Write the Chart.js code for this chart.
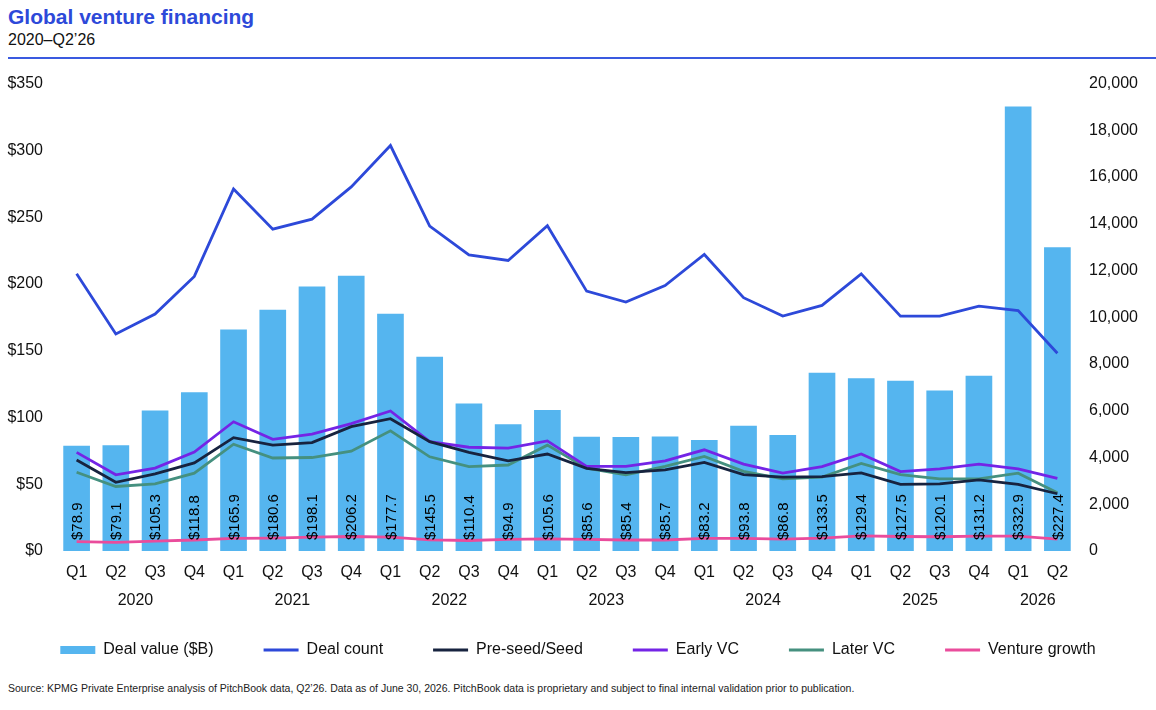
<!DOCTYPE html>
<html>
<head>
<meta charset="utf-8">
<script src="https://cdn.jsdelivr.net/npm/chart.js@4/dist/chart.umd.min.js"></script>
<style>
  html, body { margin: 0; padding: 0; background: #fff; }
  body { width: 1156px; height: 710px; position: relative; overflow: hidden; font-family: "Liberation Sans", Arial, sans-serif; color: #111; }
  #title { position: absolute; left: 8px; top: 6px; font-size: 21px; line-height: 21px; font-weight: bold; color: #2d49d9; }
  #sub { position: absolute; left: 8px; top: 32px; font-size: 16px; line-height: 16px; color: #111; }
  #rule { position: absolute; left: 8px; right: 0; top: 57px; height: 2px; background: #3a5ae0; }
  #wrap { position: absolute; left: 0; top: 60px; width: 1156px; height: 612px; }
  #source { position: absolute; left: 8px; top: 683px; font-size: 10.5px; line-height: 10.5px; color: #222; }
</style>
</head>
<body>
<div id="title">Global venture financing</div>
<div id="sub">2020–Q2’26</div>
<div id="rule"></div>
<div id="wrap"><canvas id="chart"></canvas></div>
<div id="source">Source: KPMG Private Enterprise analysis of PitchBook data, Q2’26. Data as of June 30, 2026. PitchBook data is proprietary and subject to final internal validation prior to publication.</div>
<script>
var quarters = ['Q1','Q2','Q3','Q4','Q1','Q2','Q3','Q4','Q1','Q2','Q3','Q4','Q1','Q2','Q3','Q4','Q1','Q2','Q3','Q4','Q1','Q2','Q3','Q4','Q1','Q2'];
var years = ['2020','2020','2020','2020','2021','2021','2021','2021','2022','2022','2022','2022','2023','2023','2023','2023','2024','2024','2024','2024','2025','2025','2025','2025','2026','2026'];

// deal value, $B (left axis)
var dealValue = [78.9, 79.1, 105.3, 118.8, 165.9, 180.6, 198.1, 206.2, 177.7, 145.5, 110.4, 94.9, 105.6, 85.6, 85.4, 85.7, 83.2, 93.8, 86.8, 133.5, 129.4, 127.5, 120.1, 131.2, 332.9, 227.4];

// counts (right axis)
var dealCount = [11860, 9290, 10140, 11750, 15490, 13770, 14200, 15580, 17350, 13900, 12670, 12430, 13920, 11120, 10650, 11360, 12690, 10840, 10050, 10510, 11860, 10050, 10050, 10480, 10290, 8460];
var preSeed = [3890, 2940, 3300, 3770, 4850, 4530, 4640, 5320, 5660, 4680, 4220, 3860, 4150, 3540, 3350, 3470, 3790, 3270, 3160, 3180, 3340, 2850, 2870, 3040, 2850, 2450];
var earlyVC = [4220, 3260, 3550, 4230, 5530, 4780, 5000, 5450, 5990, 4680, 4440, 4400, 4710, 3620, 3620, 3860, 4330, 3720, 3330, 3610, 4150, 3400, 3510, 3720, 3510, 3110];
var laterVC = [3370, 2760, 2870, 3330, 4570, 3980, 4000, 4270, 5140, 4030, 3610, 3680, 4530, 3540, 3260, 3620, 4050, 3410, 3090, 3160, 3750, 3270, 3090, 3090, 3330, 2490];
var ventureGrowth = [400, 370, 420, 470, 540, 550, 590, 620, 590, 480, 450, 500, 520, 500, 470, 470, 540, 540, 510, 550, 650, 620, 610, 640, 640, 510];

var FONT = '"Liberation Sans", Arial, sans-serif';

// vertical value labels inside the bars
var barLabels = {
    id: 'barLabels',
    afterDatasetsDraw: function(chart) {
        var meta = chart.getDatasetMeta(0);
        var ctx = chart.ctx;
        var bottom = chart.scales.y.getPixelForValue(0);
        ctx.save();
        ctx.font = '15px ' + FONT;
        ctx.fillStyle = '#000';
        ctx.textAlign = 'left';
        ctx.textBaseline = 'middle';
        meta.data.forEach(function(bar, i) {
            ctx.save();
            ctx.translate(bar.x, bottom - 11);
            ctx.rotate(-Math.PI / 2);
            ctx.fillText('$' + dealValue[i].toFixed(1), 0, 1);
            ctx.restore();
        });
        ctx.restore();
    }
};

// year row under the quarter ticks
var yearLabels = {
    id: 'yearLabels',
    afterDraw: function(chart) {
        var x = chart.scales.x;
        var ctx = chart.ctx;
        ctx.save();
        ctx.font = '16px ' + FONT;
        ctx.fillStyle = '#111';
        ctx.textAlign = 'center';
        ctx.textBaseline = 'middle';
        var start = 0;
        for (var i = 1; i <= years.length; i++) {
            if (i === years.length || years[i] !== years[start]) {
                var cx = (x.getPixelForValue(start) + x.getPixelForValue(i - 1)) / 2;
                ctx.fillText(years[start], cx, chart.chartArea.bottom + 50);
                start = i;
            }
        }
        ctx.restore();
    }
};

function linha(label, data, color) {
    return {
        type: 'line', label: label, data: data, yAxisID: 'y2',
        borderColor: color, backgroundColor: color, borderWidth: 2.8,
        pointRadius: 0, pointHoverRadius: 0, pointBorderWidth: 3, tension: 0, order: 0
    };
}

new Chart(document.getElementById('chart'), {
    data: {
        labels: quarters,
        datasets: [
            { type: 'bar', label: 'Deal value ($B)', data: dealValue, yAxisID: 'y',
              backgroundColor: '#55b5ef', borderWidth: 0, categoryPercentage: 0.68, barPercentage: 1, order: 1 },
            linha('Deal count', dealCount, '#2d49d9'),
            linha('Pre-seed/Seed', preSeed, '#17233f'),
            linha('Early VC', earlyVC, '#7424e6'),
            linha('Later VC', laterVC, '#45907f'),
            linha('Venture growth', ventureGrowth, '#ea4c9c')
        ]
    },
    options: {
        responsive: true, maintainAspectRatio: false, animation: false,
        layout: { padding: { top: 20, bottom: 4, left: 0, right: 0 } },
        plugins: {
            tooltip: { enabled: false },
            legend: {
                position: 'bottom',
                labels: {
                    usePointStyle: true, pointStyleWidth: 35, boxHeight: 8, padding: 50,
                    color: '#111', font: { family: FONT, size: 16 },
                    sort: function(a, b) { return a.datasetIndex - b.datasetIndex; },
                    generateLabels: function(chart) {
                        var items = Chart.defaults.plugins.legend.labels.generateLabels(chart);
                        items.forEach(function(it) {
                            if (it.datasetIndex === 0) { it.pointStyle = 'rect'; it.lineWidth = 0; }
                            else { it.pointStyle = 'line'; it.lineWidth = 3; }
                        });
                        return items;
                    }
                }
            }
        },
        scales: {
            x: {
                grid: { display: false, drawTicks: false }, border: { display: false },
                ticks: { color: '#111', font: { family: FONT, size: 16 }, padding: 12, maxRotation: 0, autoSkip: false },
                afterFit: function(s) { s.height = 41; }
            },
            y: {
                position: 'left', min: 0, max: 350,
                grid: { display: false, drawTicks: false }, border: { display: false },
                ticks: { stepSize: 50, padding: 14, color: '#111', font: { family: FONT, size: 16 },
                         callback: function(v) { return '$' + v; } },
                afterFit: function(s) { s.width = 57; }
            },
            y2: {
                position: 'right', min: 0, max: 20000,
                grid: { display: false, drawTicks: false }, border: { display: false },
                ticks: { stepSize: 2000, padding: 12, color: '#111', font: { family: FONT, size: 16 },
                         callback: function(v) { return v.toLocaleString('en-US'); } },
                afterFit: function(s) { s.width = 79; }
            }
        }
    },
    plugins: [barLabels, yearLabels]
});
</script>
</body>
</html>
